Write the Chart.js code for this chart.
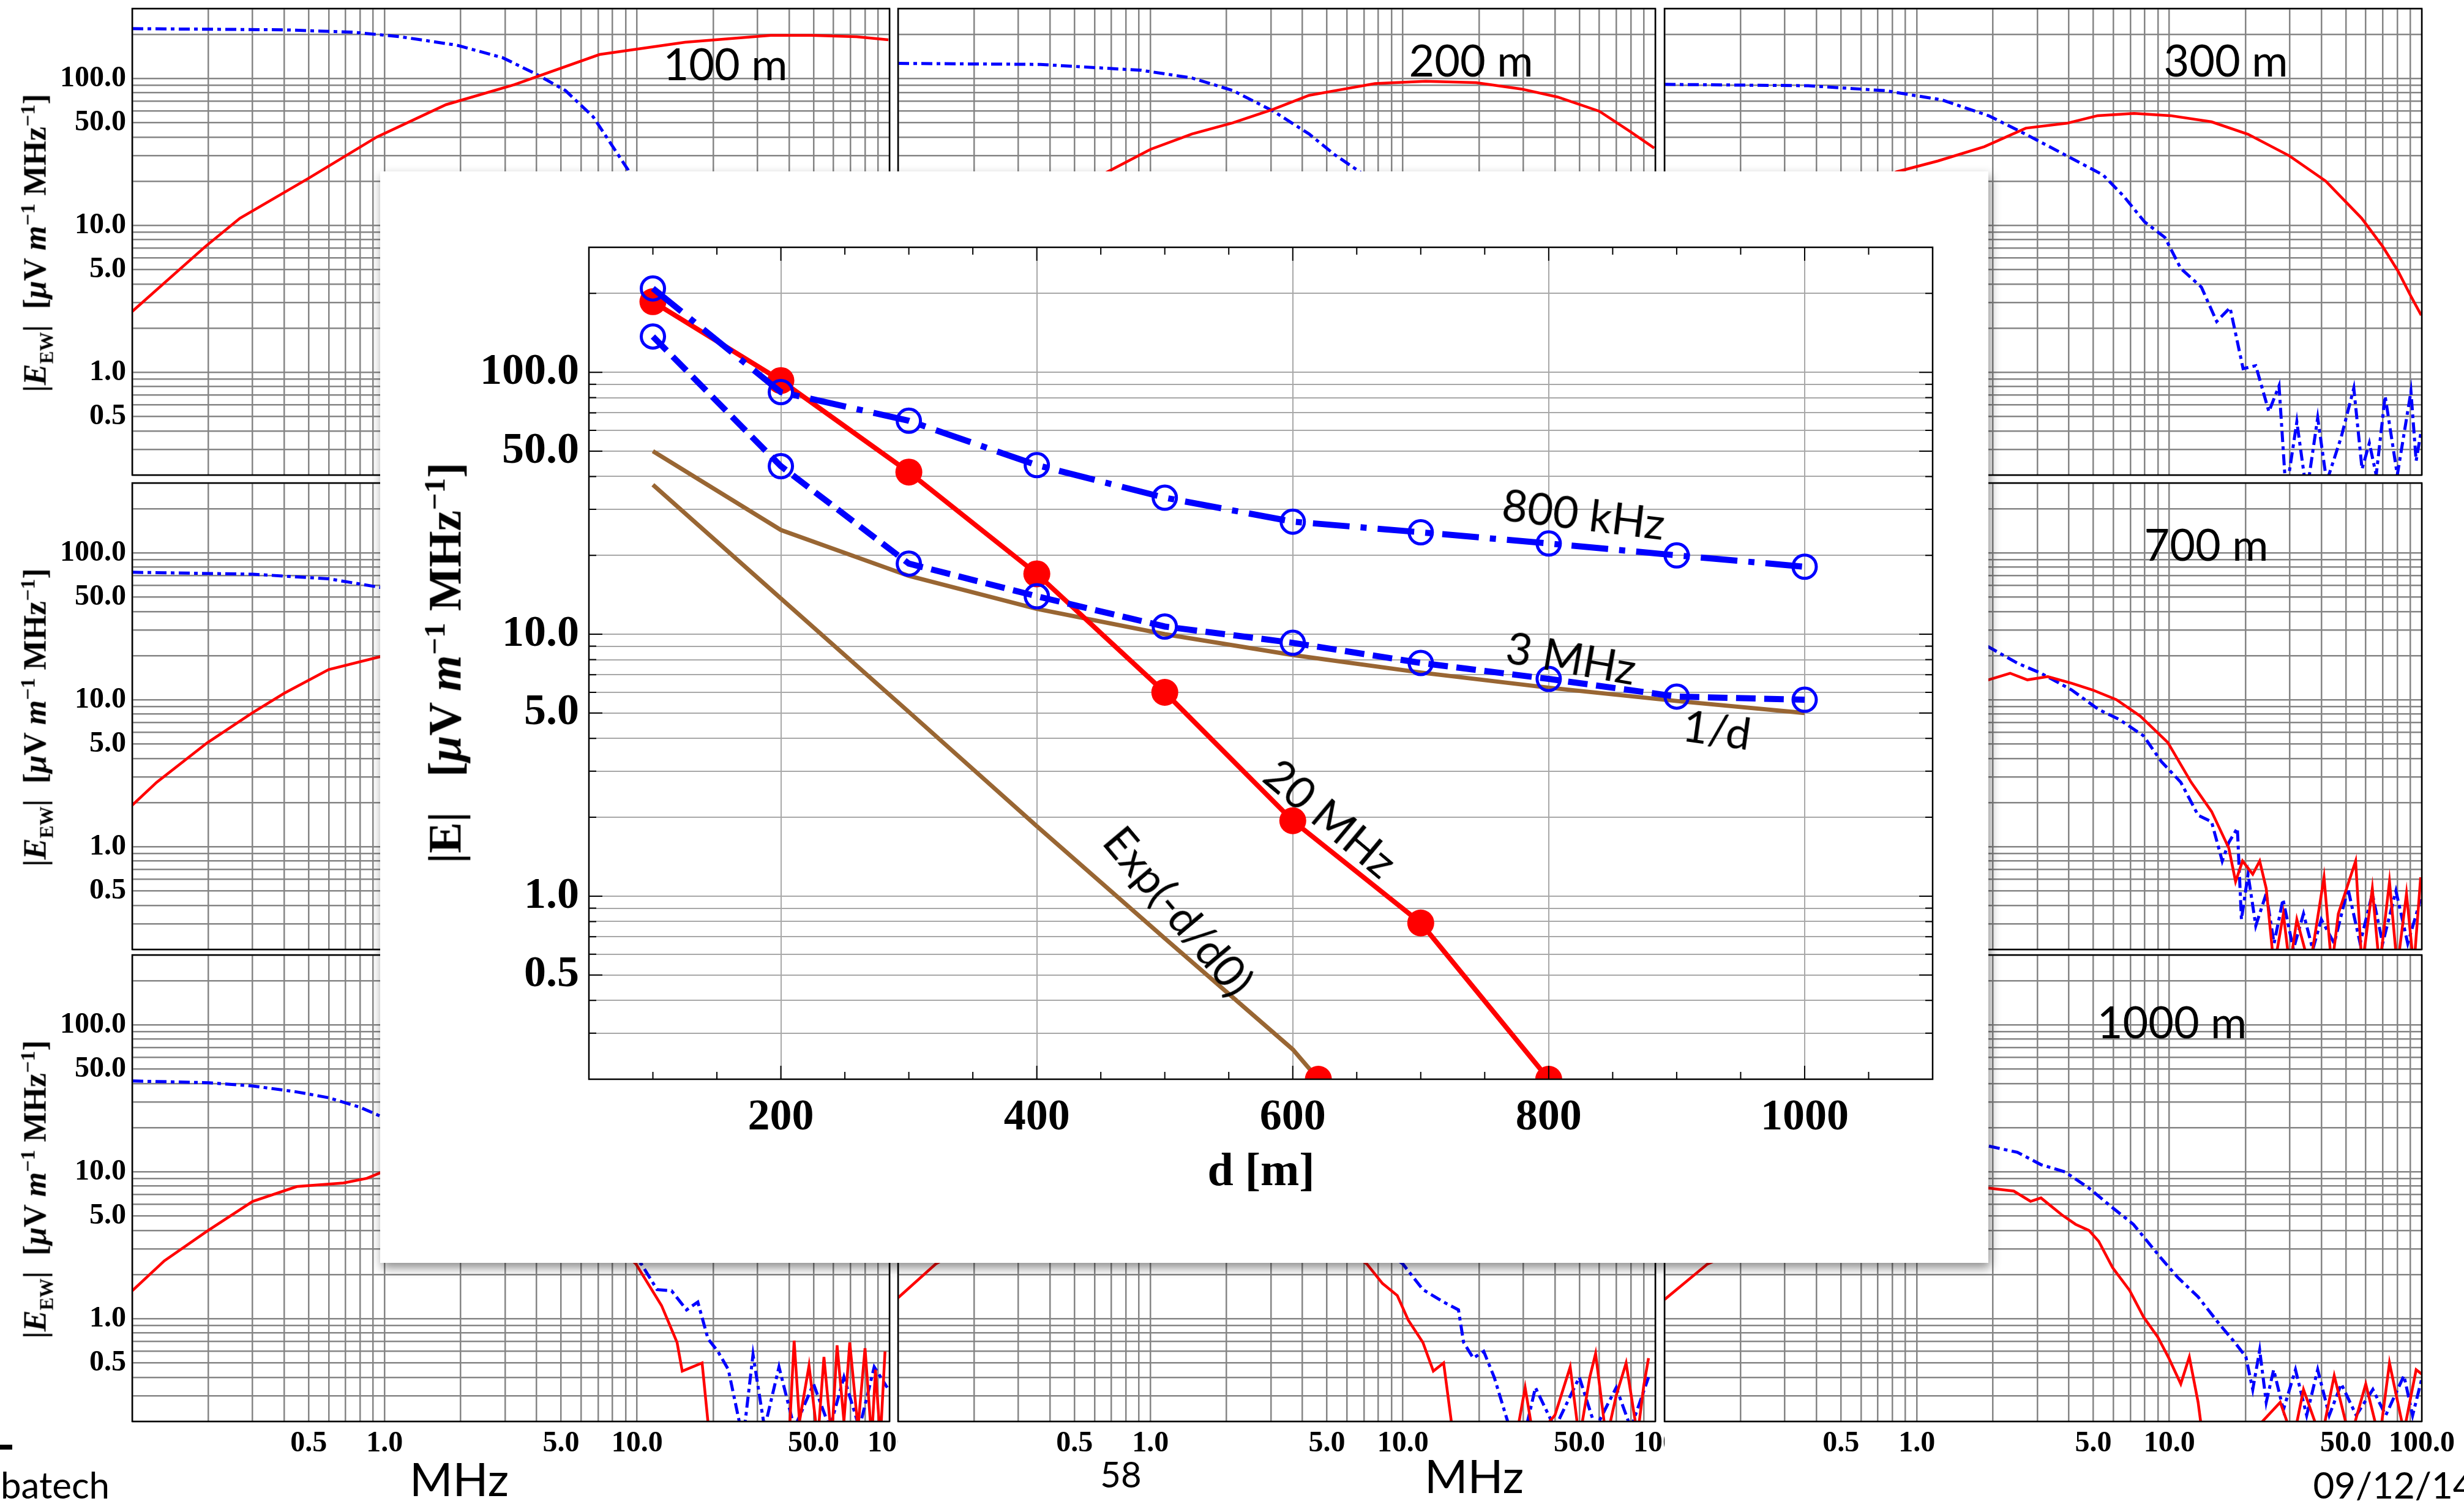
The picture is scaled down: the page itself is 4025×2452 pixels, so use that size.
<!DOCTYPE html>
<html>
<head>
<meta charset="utf-8">
<script src="https://cdn.jsdelivr.net/npm/chart.js@4.4.1/dist/chart.umd.min.js"></script>
<style>
html,body{margin:0;padding:0;background:#fff;}
#page{position:relative;width:4025px;height:2452px;overflow:hidden;background:#fff;}
canvas{position:absolute;display:block;}
.txt{position:absolute;white-space:nowrap;color:#000;line-height:1;z-index:5;}
#inset{position:absolute;left:621px;top:280px;width:2627px;height:1783px;background:#fff;
  box-shadow:3px 8px 16px rgba(0,0,0,0.45);z-index:3;}
</style>
</head>
<body>
<div id="page">
  <div id="inset"><canvas id="mainChart" width="2627" height="1783"></canvas></div>
</div>
<script>
// ---- inset chart data: |E| vs distance ----
const distances=[100,200,300,400,500,600,700,800,900,1000];
const e800kHz=[209,84,65.3,44.2,33.2,26.9,24.5,22.2,20.0,18.1];
const e3MHz=[137,43.8,18.6,13.96,10.7,9.27,7.77,6.75,5.78,5.62];
const d20MHz=[100,200,300,400,500,600,700,800];
const e20MHz=[186,93,41.6,17.0,6.0,1.94,0.79,0.2];
const eInvD=[50,25,16.7,12.5,10,8.33,7.14,6.25,5.56,5.0];
const dExp=[100,200,300,400,500,600,620];
const eExp=[37.2,13.7,5.05,1.85,0.69,0.26,0.2];

const yGrid=[0.2,0.3,0.4,0.5,0.6,0.7,0.8,0.9,1,2,3,4,5,6,7,8,9,10,20,30,40,50,60,70,80,90,100,200,300];
const yLabels=[0.5,1,5,10,50,100];
const insetXTicks=[50,100,150,200,250,300,350,400,450,500,550,600,650,700,750,800,850,900,950,1000,1050,1100];
const insetXLabels=[200,400,600,800,1000];

// ---- background panels: |E_EW| vs frequency (MHz) ----
const freqGrid=[0.1,0.2,0.3,0.4,0.5,0.6,0.7,0.8,0.9,1,2,3,4,5,6,7,8,9,10,20,30,40,50,60,70,80,90,100];
const freqLabels=[0.5,1,5,10,50,100];

// 100 m
const p1RedF=[0.1,0.195,0.267,0.5,0.93,1.75,3.26,7.1,15.5,33.9,49,74,99];
const p1RedE=[2.6,7.2,11.2,21,40,66.5,91,146,177,197,197,193,184];
const p1BlueF=[0.1,0.4,0.755,1.15,1.93,2.93,4.0,5.2,6.7,9.2,12,15];
const p1BlueE=[219,215,207,193,169,139,107,83,55,24,6,1.5];
// 200 m
const p2RedF=[0.1,0.3,0.67,1.0,1.46,2.12,3.07,4.25,5.87,7.75,12.3,19.5,29.5,41,60,79,99];
const p2RedE=[4,11,23,33,42,50,62,77,85,92.5,96,94,85,75,60,44,33.7];
const p2BlueF=[0.1,0.366,0.92,1.46,2.12,3.07,4.25,5.36,6.75,9,12];
const p2BlueE=[127,125,114,101,83,60,42,30.4,23.2,12,5];
// 300 m
const p3RedF=[0.1,0.4,0.83,1.21,1.85,2.7,3.93,5.2,7.25,10.1,14.7,20.5,29.9,41.6,57.8,70,80.5,90.6,99.5];
const p3RedE=[2.5,12,23.2,27.5,34.4,46,49.7,56,58,56,50.8,41.8,29.8,20.1,11.2,7.2,4.9,3.3,2.45];
const p3BlueF=[0.1,0.371,0.75,1.26,1.93,2.7,3.93,5.46,6.6,7.97,9.6,11.1,13.4,15.4,17.4,19.6,22,24.8,27.2,29,32,35,38.7,42,47.9,53.8,58,62,66,71.6,80,90.6,95,99.5];
const p3BlueE=[91.4,89.5,82.8,71.6,55.8,41.8,29.8,22.1,15.8,10.6,8.3,5.1,3.8,2.22,2.76,1.06,1.11,0.54,0.81,0.15,0.46,0.15,0.49,0.18,0.36,0.78,0.22,0.33,0.2,0.69,0.2,0.74,0.25,0.4];
// middle row, left
const p4RedF=[0.1,0.125,0.198,0.3,0.4,0.6,0.96,2,5];
const p4RedE=[1.92,2.75,5.1,8.2,11.1,16.1,19.7,25,30];
const p4BlueF=[0.1,0.3,0.6,0.96,2,4];
const p4BlueE=[74,71.8,66.8,58.4,40,20];
// 700 m
const p6RedF=[0.1,0.5,1.0,1.92,2.34,2.74,3.3,4.1,4.96,6.17,7.67,9.86,12.2,14.7,17.2,18.3,19.5,21.4,22.8,24.2,26,28.3,30,32,36,41,44,46.7,54.7,58,63.7,68,74.5,80,87,93,99];
const p6RedE=[6,10,12,13.7,15.2,13.7,14.4,13.0,11.7,10.05,7.76,5.13,2.75,1.74,0.98,0.58,0.8,0.65,0.8,0.52,0.15,0.35,0.15,0.32,0.15,0.62,0.15,0.35,0.8,0.15,0.52,0.15,0.58,0.15,0.48,0.15,0.62];
const p6BlueF=[0.1,1.0,1.92,2.5,3.1,4.1,5.25,6.34,7.9,9.3,11.1,13,14.7,16.2,17.2,18.6,19.3,20.5,22,24.2,26,28.2,31,34,37,40,45,51,57,63.7,70,79,88,99];
const p6BlueE=[45,30,23,17.8,15.2,11.7,8.6,7.35,5.7,3.8,2.75,1.64,1.48,0.8,1.07,1.34,0.32,0.65,0.29,0.48,0.22,0.44,0.2,0.35,0.2,0.32,0.22,0.52,0.22,0.48,0.22,0.5,0.22,0.44];
// bottom row, left
const p7RedF=[0.1,0.134,0.198,0.3,0.449,0.687,0.85,0.98,2,5,9.9,12.5,14.4,15.1,18.1,19.4,25,35,40,41.9,44,48,52,55,59,62,66,69.6,75,80,85,88,92,96];
const p7RedE=[1.55,2.48,3.95,6.3,7.95,8.4,9.04,10.0,12,7,2.36,1.23,0.69,0.44,0.5,0.15,0.15,0.15,0.15,0.71,0.2,0.48,0.15,0.55,0.15,0.66,0.2,0.69,0.18,0.63,0.15,0.45,0.15,0.6];
const p7BlueF=[0.1,0.2,0.3,0.45,0.6,0.8,0.96,3,10.4,12,13.7,15.7,17.4,19.1,20.9,23,26.3,28.8,32,36.5,42,50,58,66,76,87,98];
const p7BlueE=[41.6,40.5,38.5,35,32,27.5,24,8,2.36,1.58,1.55,1.15,1.3,0.73,0.6,0.45,0.15,0.57,0.18,0.47,0.18,0.36,0.18,0.4,0.18,0.47,0.34];
// bottom row, middle
const p8RedF=[0.1,0.141,0.3,1,3,7.2,8.3,9.5,10.5,12,13.2,14.5,15.9,22,28,30.5,33,40,46,50,55,58,64,70,76.6,85,90,94];
const p8RedE=[1.39,2.36,5,9,7,2.36,1.74,1.44,0.98,0.69,0.44,0.5,0.15,0.15,0.15,0.34,0.15,0.22,0.47,0.15,0.4,0.58,0.15,0.3,0.5,0.16,0.35,0.54];
const p8BlueF=[0.1,1,5,10,12,14.5,16.6,17.4,19,20.9,23,26,30,33.5,40,50,58,70,80,94];
const p8BlueE=[25,18,6,2.36,1.58,1.3,1.15,0.69,0.54,0.6,0.4,0.2,0.15,0.34,0.18,0.4,0.18,0.34,0.18,0.4];
// 1000 m
const p9RedF=[0.1,0.148,0.5,1.92,2.42,2.82,3.1,3.75,4.25,4.8,5.25,5.96,6.96,7.9,9.0,9.9,11.1,12,13,13.6,20,27.5,31,34,40,45,52,60,68,74.5,85,95,100];
const p9RedE=[1.35,2.36,6,7.76,7.4,6.3,6.65,5.1,4.4,4.0,3.37,2.23,1.56,1.03,0.75,0.55,0.36,0.55,0.27,0.15,0.15,0.27,0.15,0.33,0.15,0.41,0.15,0.36,0.15,0.5,0.17,0.45,0.42];
const p9BlueF=[0.1,1,1.92,2.5,3.1,3.86,4.8,5.96,7.2,9.2,10.8,13,15.7,18.3,20.1,21.4,22.8,24.2,25.9,28.3,31.6,35,38.7,43,48,55,64,72,85,92,100];
const p9BlueE=[22,18,15,13.6,11.2,10,7.76,5.7,4.4,2.63,1.91,1.41,0.93,0.68,0.55,0.33,0.61,0.27,0.45,0.24,0.45,0.22,0.45,0.22,0.36,0.22,0.33,0.22,0.41,0.22,0.39];

const panels=[
  {name:'100 m',redF:p1RedF,redE:p1RedE,blueF:p1BlueF,blueE:p1BlueE},
  {name:'200 m',redF:p2RedF,redE:p2RedE,blueF:p2BlueF,blueE:p2BlueE},
  {name:'300 m',redF:p3RedF,redE:p3RedE,blueF:p3BlueF,blueE:p3BlueE},
  {name:'',redF:p4RedF,redE:p4RedE,blueF:p4BlueF,blueE:p4BlueE},
  {name:'',redF:[],redE:[],blueF:[],blueE:[]},
  {name:'700 m',redF:p6RedF,redE:p6RedE,blueF:p6BlueF,blueE:p6BlueE},
  {name:'',redF:p7RedF,redE:p7RedE,blueF:p7BlueF,blueE:p7BlueE},
  {name:'',redF:p8RedF,redE:p8RedE,blueF:p8BlueF,blueE:p8BlueE},
  {name:'1000 m',redF:p9RedF,redE:p9RedE,blueF:p9BlueF,blueE:p9BlueE}
];

const page=document.getElementById('page');
const serif='"Liberation Serif","DejaVu Serif",serif';
const sans='Lato,"Open Sans",sans-serif';

function pts(xs,ys){return xs.map((x,i)=>({x:x,y:ys[i]}));}
function noPad(s){s.paddingLeft=0;s.paddingRight=0;s.paddingTop=0;s.paddingBottom=0;}

// white backing from the plot's left edge rightwards (hides the neighbour's overflowing last tick label)
const areaBg={id:'areaBg',beforeDraw(ch){
  const a=ch.chartArea,ctx=ch.ctx;
  ctx.save();ctx.fillStyle='#fff';ctx.fillRect(a.left,0,ch.width-a.left,ch.height);ctx.restore();
}};
const frame={id:'frame',afterDatasetsDraw(ch,args,opts){
  const a=ch.chartArea,ctx=ch.ctx;
  ctx.save();ctx.strokeStyle='#000';ctx.lineWidth=opts.width||2;
  ctx.strokeRect(a.left,a.top,a.right-a.left,a.bottom-a.top);ctx.restore();
}};
const innerTicks={id:'innerTicks',afterDatasetsDraw(ch){
  const a=ch.chartArea,ctx=ch.ctx,xs=ch.scales.x,ys=ch.scales.y;
  ctx.save();ctx.strokeStyle='#000';ctx.lineWidth=2;ctx.beginPath();
  insetXTicks.forEach(v=>{
    const px=xs.getPixelForValue(v),len=insetXLabels.includes(v)?22:12;
    ctx.moveTo(px,a.bottom);ctx.lineTo(px,a.bottom-len);
    ctx.moveTo(px,a.top);ctx.lineTo(px,a.top+len);
  });
  yGrid.forEach(v=>{
    const py=ys.getPixelForValue(v),len=yLabels.includes(v)?22:12;
    ctx.moveTo(a.left,py);ctx.lineTo(a.left+len,py);
    ctx.moveTo(a.right,py);ctx.lineTo(a.right-len,py);
  });
  ctx.stroke();ctx.restore();
}};

// ---- background panels ----
const colLeft=[216,1467,2719],rowTop=[14,789,1560],areaW=1237,areaH=762;
panels.forEach((p,i)=>{
  const c=i%3,r=Math.floor(i/3);
  const padL=c===0?216:4,padB=r===2?62:4,padR=r===2?(c===2?64:40):4;
  const cv=document.createElement('canvas');
  cv.width=padL+areaW+padR;cv.height=4+areaH+padB;
  cv.style.left=(colLeft[c]-padL)+'px';cv.style.top=(rowTop[r]-4)+'px';
  page.insertBefore(cv,document.getElementById('inset'));
  new Chart(cv,{
    type:'line',
    data:{datasets:[
      {data:pts(p.redF,p.redE),borderColor:'#ff0000',borderWidth:4.5,pointRadius:0,tension:0},
      {data:pts(p.blueF,p.blueE),borderColor:'#0000ff',borderWidth:5,borderDash:[18,7,6,7],pointRadius:0,tension:0}
    ]},
    options:{
      responsive:false,animation:false,devicePixelRatio:1,
      layout:{padding:{top:4,right:padR,left:0,bottom:0}},
      plugins:{legend:{display:false},tooltip:{enabled:false},frame:{width:2.5}},
      scales:{
        x:{type:'logarithmic',min:0.1,max:100,
          afterBuildTicks:s=>{s.ticks=freqGrid.map(v=>({value:v}));},
          afterFit:s=>{s.height=padB;noPad(s);},
          grid:{color:'#858585',lineWidth:2.5,drawTicks:false},border:{display:false},
          ticks:{display:r===2,autoSkip:false,maxRotation:0,padding:8,color:'#000',
            font:{family:serif,size:48,weight:'bold'},
            callback:v=>freqLabels.includes(v)?(v===100?(c===2?'100.0':'100'):v.toFixed(1)):''}},
        y:{type:'logarithmic',min:0.2,max:300,
          afterBuildTicks:s=>{s.ticks=yGrid.map(v=>({value:v}));},
          afterFit:s=>{s.width=padL;noPad(s);},
          grid:{color:'#858585',lineWidth:2.5,drawTicks:false},border:{display:false},
          ticks:{display:c===0,autoSkip:false,padding:10,color:'#000',
            font:{family:serif,size:48,weight:'bold'},
            callback:v=>yLabels.includes(v)?v.toFixed(1):''}}
      }
    },
    plugins:[areaBg,frame]
  });
});

// ---- inset chart ----
const blue='#0000ff',red='#ff0000',brown='#996633';
new Chart(document.getElementById('mainChart'),{
  type:'line',
  data:{datasets:[
    {label:'800 kHz',data:pts(distances,e800kHz),borderColor:blue,borderWidth:10,borderDash:[60,18,10,18],
      pointRadius:19,pointBorderWidth:5,pointBorderColor:blue,pointBackgroundColor:'rgba(0,0,0,0)',tension:0},
    {label:'3 MHz',data:pts(distances,e3MHz),borderColor:blue,borderWidth:10,borderDash:[32,14],
      pointRadius:19,pointBorderWidth:5,pointBorderColor:blue,pointBackgroundColor:'rgba(0,0,0,0)',tension:0},
    {label:'20 MHz',data:pts(d20MHz,e20MHz),borderColor:red,borderWidth:8,
      pointRadius:22,pointBorderWidth:0,pointBackgroundColor:red,tension:0},
    {label:'1/d',data:pts(distances,eInvD),borderColor:brown,borderWidth:7,pointRadius:0,tension:0},
    {label:'Exp(-d/d0)',data:pts(dExp,eExp),borderColor:brown,borderWidth:7,
      pointRadius:dExp.map((d,i)=>i===dExp.length-1?22:0),pointBorderWidth:0,pointBackgroundColor:red,tension:0}
  ]},
  options:{
    responsive:false,animation:false,devicePixelRatio:1,
    layout:{padding:{top:124,right:91,left:0,bottom:0}},
    plugins:{legend:{display:false},tooltip:{enabled:false},frame:{width:2.5}},
    scales:{
      x:{type:'linear',min:50,max:1100,
        afterBuildTicks:s=>{s.ticks=insetXTicks.map(v=>({value:v}));},
        afterFit:s=>{s.height=300;noPad(s);},
        grid:{color:ctx=>insetXLabels.includes(ctx.tick.value)?'#a8a8a8':'rgba(0,0,0,0)',lineWidth:2,drawTicks:false},
        border:{display:false},
        ticks:{autoSkip:false,maxRotation:0,padding:20,color:'#000',font:{family:serif,size:72,weight:'bold'},
          callback:v=>insetXLabels.includes(v)?String(v):''}},
      y:{type:'logarithmic',min:0.2,max:300,
        afterBuildTicks:s=>{s.ticks=yGrid.map(v=>({value:v}));},
        afterFit:s=>{s.width=341;noPad(s);},
        grid:{color:'#a8a8a8',lineWidth:2,drawTicks:false},border:{display:false},
        ticks:{autoSkip:false,padding:16,color:'#000',font:{family:serif,size:72,weight:'bold'},
          callback:v=>yLabels.includes(v)?v.toFixed(1):''}}
    }
  },
  plugins:[frame,innerTicks]
});

// ---- text ----
function addText(html,cx,cy,family,size,weight,angle){
  const d=document.createElement('div');
  d.className='txt';d.innerHTML=html;
  d.style.fontFamily=family;d.style.fontSize=size+'px';d.style.fontWeight=weight||'normal';
  d.style.left=cx+'px';d.style.top=cy+'px';
  d.style.transform='translate(-50%,-50%) rotate('+(angle||0)+'deg)';
  page.appendChild(d);
  return d;
}
// panel labels
addText('100 m',1185,103,sans,72);
addText('200 m',2403,97,sans,72);
addText('300 m',3636,97,sans,72);
addText('700 m',3604,888,sans,72);
addText('1000 m',3548,1668,sans,72);
// panel axis titles
const panelTitle='|<i>E</i><sub style="font-size:0.6em">EW</sub>|&nbsp;&nbsp;[<i>μ</i>V <i>m</i><sup style="font-size:0.65em">−1</sup> MHz<sup style="font-size:0.65em">−1</sup>]';
rowTop.forEach(t=>{addText(panelTitle,60,t+383,serif,52,'bold',-90);});
// inset labels
addText('|E|&nbsp;&nbsp;&nbsp;[<i>μ</i>V <i>m</i><sup style="font-size:0.65em">−1</sup> MHz<sup style="font-size:0.65em">−1</sup>]',725,1083,serif,76,'bold',-90);
addText('d [m]',2060,1910,serif,76,'bold');
addText('800 kHz',2587,838,sans,72,'normal',7);
addText('3 MHz',2567,1073,sans,72,'normal',10);
addText('1/d',2805,1190,sans,72,'normal',8);
addText('20 MHz',2175,1335,sans,72,'normal',40);
addText('Exp(-d/d0)',1927,1487,sans,72,'normal',50);
// slide footer
addText('MHz',750,2415,sans,76);
addText('MHz',2408,2410,sans,76);
addText('58',1831,2408,sans,58);
addText('batech',90,2425,sans,60);
addText('09/12/14',3910,2425,sans,60);
const dash=document.createElement('div');
dash.style.cssText='position:absolute;left:0;top:2360px;width:20px;height:8px;background:#000;';
page.appendChild(dash);
</script>
</body>
</html>
